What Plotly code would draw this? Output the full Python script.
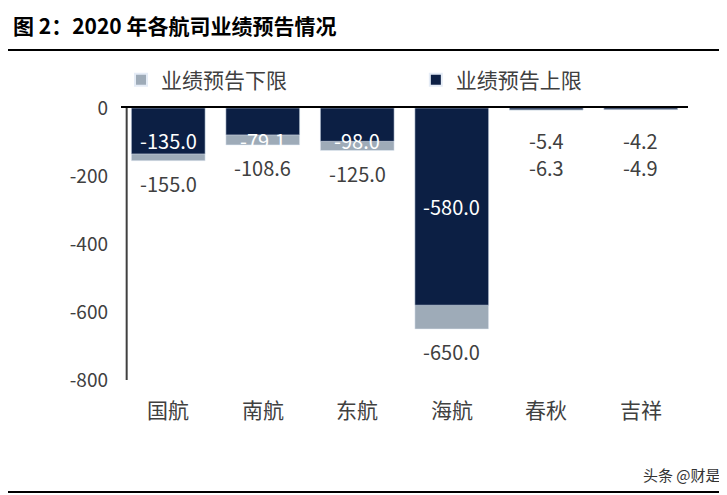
import plotly.graph_objects as go

airlines = ['国航', '南航', '东航', '海航', '春秋', '吉祥']
lower = [-155.0, -108.6, -125.0, -650.0, -6.3, -4.9]
upper = [-135.0, -79.1, -98.0, -580.0, -5.4, -4.2]
y_ticks = [0, -200, -400, -600, -800]

GRAY = '#9eabb8'
NAVY = '#0c1f44'
FONT = 'Noto Sans CJK SC'

fig = go.Figure()
fig.add_bar(x=airlines, y=lower, name='业绩预告下限', marker_color=GRAY, width=0.78,
            legend='legend')
fig.add_bar(x=airlines, y=upper, name='业绩预告上限', marker_color=NAVY, width=0.78,
            legend='legend2')

# value labels
for a, lo, up in zip(airlines, lower, upper):
    if abs(up) > 50:
        fig.add_annotation(x=a, y=up / 2 if abs(up) > 200 else -95, text=f'{up:.1f}',
                           showarrow=False, font=dict(color='white', size=20, family=FONT))
        fig.add_annotation(x=a, y=lo, yanchor='top', yshift=-6, text=f'{lo:.1f}',
                           showarrow=False, font=dict(color='#404040', size=20, family=FONT))
    else:
        fig.add_annotation(x=a, y=-95, text=f'{up:.1f}', showarrow=False,
                           font=dict(color='#404040', size=20, family=FONT))
        fig.add_annotation(x=a, y=-175, text=f'{lo:.1f}', showarrow=False,
                           font=dict(color='#404040', size=20, family=FONT))

leg = dict(orientation='h', yanchor='middle', y=1 + 28 / 272, xanchor='left',
           font=dict(size=21, color='#404040', family=FONT),
           bgcolor='rgba(0,0,0,0)', itemsizing='constant')
fig.update_layout(
    width=727, height=495,
    barmode='overlay',
    plot_bgcolor='white', paper_bgcolor='white',
    margin=dict(l=113, r=47, t=100, b=123),
    showlegend=True,
    legend=dict(leg, x=0.0),
    legend2=dict(leg, x=0.52),
    font=dict(family=FONT),
    xaxis=dict(side='top', showline=True, linecolor='black', linewidth=2,
               ticks='', showticklabels=False, range=[-0.5, 5.5]),
    yaxis=dict(range=[-800, 0], tickvals=y_ticks, ticktext=[str(v) for v in y_ticks],
               showgrid=False, zeroline=False, showline=False,
               tickfont=dict(size=19, color='#404040', family=FONT), ticklabelstandoff=12),
)
fig.add_shape(type='line', xref='paper', yref='y', x0=0.01, x1=0.01, y0=0, y1=-800,
              line=dict(color='#404040', width=2))
for a in airlines:
    fig.add_annotation(x=a, y=-800, yref='y', yanchor='top', yshift=-12, text=a,
                       showarrow=False, font=dict(size=21, color='#404040', family=FONT))

# header, rules and watermark
fig.add_annotation(xref='paper', yref='paper', x=-110 / 567, y=1 + 83 / 272, xanchor='left',
                   yanchor='middle', text='<b>图 2：2020 年各航司业绩预告情况</b>', showarrow=False,
                   font=dict(size=21, color='black', family=FONT))
fig.add_shape(type='line', xref='paper', yref='paper', x0=-113 / 567, x1=1 + 47 / 567,
              y0=1 + 58 / 272, y1=1 + 58 / 272, line=dict(color='black', width=2))
fig.add_shape(type='line', xref='paper', yref='paper', x0=-113 / 567, x1=1 + 47 / 567,
              y0=-112 / 272, y1=-112 / 272, line=dict(color='black', width=2))
fig.add_annotation(xref='paper', yref='paper', x=1 + 35 / 567, y=-95 / 272, xanchor='right',
                   yanchor='middle', text='头条 @财是', showarrow=False,
                   font=dict(size=15, color='#333', family=FONT))

fig.write_html('out.html')
